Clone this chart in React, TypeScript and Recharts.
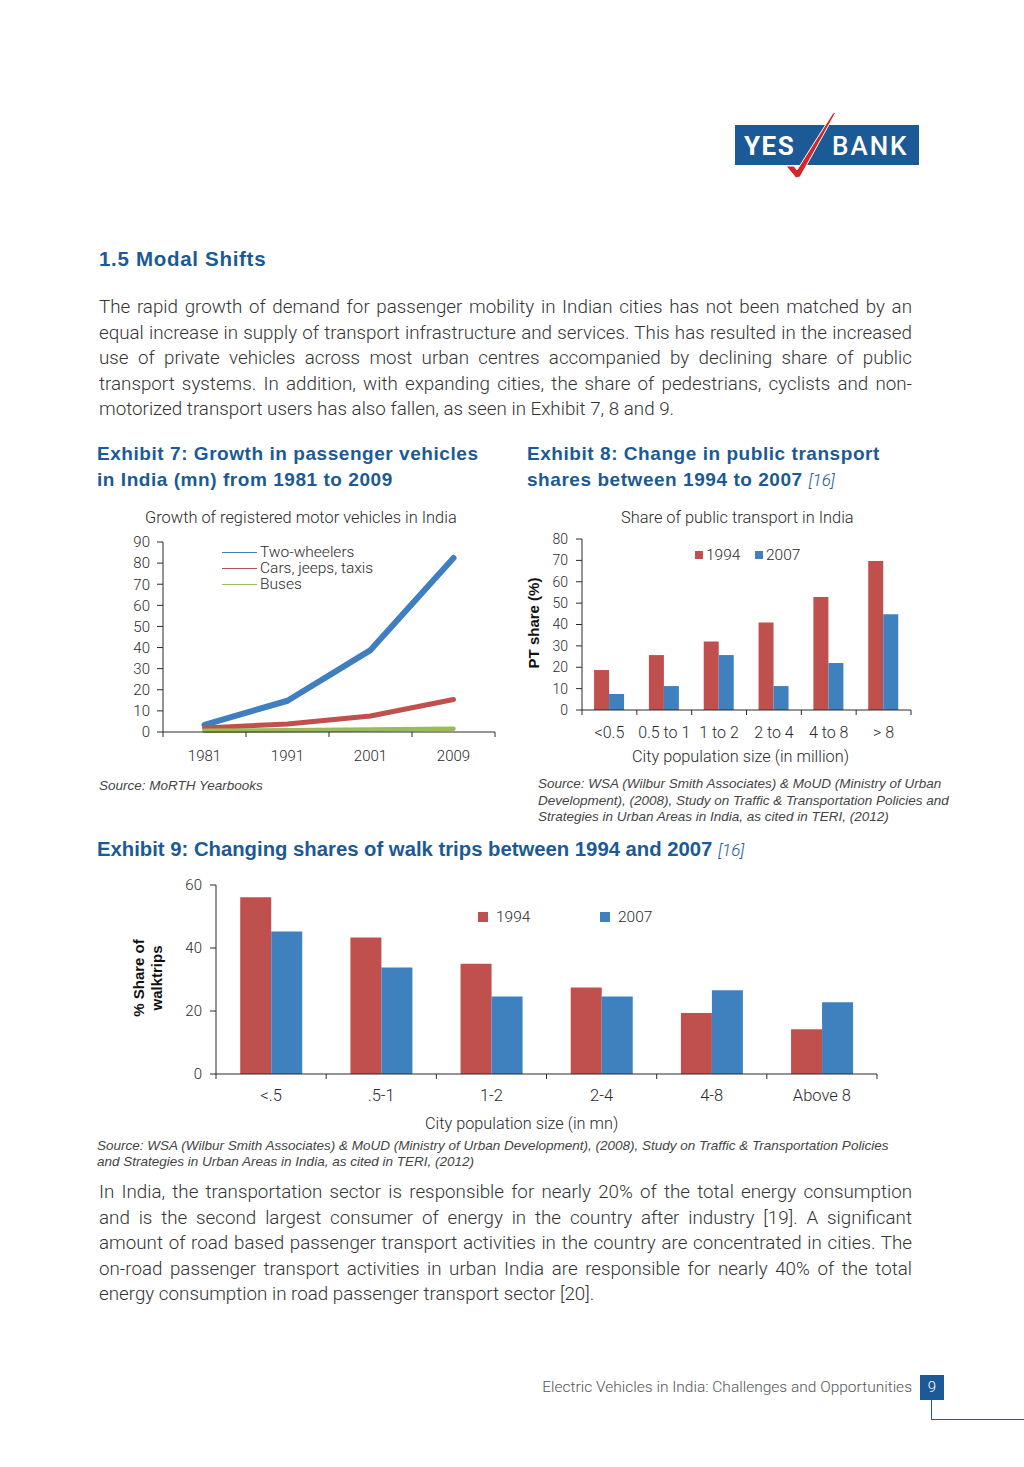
import React from "react";
import { LineChart, Line, BarChart, Bar, XAxis, YAxis, Legend } from "recharts";

// Exhibit 7: registered vehicles (mn)
const years = ["1981", "1991", "2001", "2009"];
const twoWheelers = [3.4, 14.8, 38.8, 82.4];
const carsJeepsTaxis = [1.9, 3.8, 7.6, 15.4];
const buses = [0.6, 0.8, 1.2, 1.5];
const vehicleTicks = [0, 10, 20, 30, 40, 50, 60, 70, 80, 90];
const vehicleSeries = ["Two-wheelers", "Cars, jeeps, taxis", "Buses"];

// Exhibit 8: public transport share (%)
const ptCities = ["<0.5", "0.5 to 1", "1 to 2", "2 to 4", "4 to 8", "> 8"];
const pt1994 = [18.7, 25.7, 32.0, 40.9, 52.9, 69.7];
const pt2007 = [7.5, 11.2, 25.7, 11.2, 22.0, 44.8];
const ptTicks = [0, 10, 20, 30, 40, 50, 60, 70, 80];

// Exhibit 9: walk trip share (%)
const walkCities = ["<.5", ".5-1", "1-2", "2-4", "4-8", "Above 8"];
const walk1994 = [56.1, 43.3, 35.0, 27.5, 19.4, 14.2];
const walk2007 = [45.2, 33.8, 24.6, 24.6, 26.6, 22.8];
const walkTicks = [0, 20, 40, 60];

const para1 = [
  "The rapid growth of demand for passenger mobility in Indian cities has not been matched by an",
  "equal increase in supply of transport infrastructure and services. This has resulted in the increased",
  "use of private vehicles across most urban centres accompanied by declining share of public",
  "transport systems. In addition, with expanding cities, the share of pedestrians, cyclists and non-",
  "motorized transport users has also fallen, as seen in Exhibit 7, 8 and 9.",
];
const para2 = [
  "In India, the transportation sector is responsible for nearly 20% of the total energy consumption",
  "and is the second largest consumer of energy in the country after industry [19]. A significant",
  "amount of road based passenger transport activities in the country are concentrated in cities. The",
  "on-road passenger transport activities in urban India are responsible for nearly 40% of the total",
  "energy consumption in road passenger transport sector [20].",
];

const vehicleData = years.map((year, i) => ({
  year,
  twoWheelers: twoWheelers[i],
  cars: carsJeepsTaxis[i],
  buses: buses[i],
}));
const ptData = ptCities.map((city, i) => ({ city, y1994: pt1994[i], y2007: pt2007[i] }));
const walkData = walkCities.map((city, i) => ({ city, y1994: walk1994[i], y2007: walk2007[i] }));

const NAVY = "#1b5a96";
const RED = "#c0504d";
const BAR_BLUE = "#3f80bf";
const INK = "#2a2a2a";
const SANS = "Roboto, 'Liberation Sans', sans-serif";
const ARIAL = "'Liberation Sans', Arial, sans-serif";
const NARROW = "'Liberation Sans Narrow', 'Liberation Sans', sans-serif";

function Txt({
  x,
  y,
  size,
  children,
  style,
}: {
  x: number;
  y: number;
  size: number;
  children: React.ReactNode;
  style?: React.CSSProperties;
}) {
  const lh = Math.round(size * 1.3);
  return (
    <div
      style={{
        position: "absolute",
        left: x,
        top: y - lh / 2,
        fontSize: size,
        lineHeight: `${lh}px`,
        whiteSpace: "nowrap",
        ...style,
      }}
    >
      {children}
    </div>
  );
}

function Paragraph({ lines, top }: { lines: string[]; top: number }) {
  return (
    <>
      {lines.map((line, i) => (
        <div
          key={i}
          style={{
            position: "absolute",
            left: 99,
            width: 813,
            top: top + i * 25.5 - 12,
            fontFamily: SANS,
            fontWeight: 300,
            fontSize: 18.8,
            lineHeight: "24px",
            color: "#333",
            whiteSpace: "nowrap",
            textAlign: "justify",
            textAlignLast: i === lines.length - 1 ? "left" : "justify",
          }}
        >
          {line}
        </div>
      ))}
    </>
  );
}

// category label centred in its band, tick marks on the band edges
function BandTick(props: any) {
  const { x, y, payload, index, band, count, labelDy, fontSize } = props;
  const half = band / 2;
  return (
    <g>
      <line x1={x - half} x2={x - half} y1={y} y2={y + 5} stroke={INK} />
      {index === count - 1 ? (
        <line x1={x + half} x2={x + half} y1={y} y2={y + 5} stroke={INK} />
      ) : null}
      <text
        x={x}
        y={y + labelDy}
        textAnchor="middle"
        dominantBaseline="central"
        fontFamily={SANS}
        fontWeight={300}
        fontSize={fontSize}
        fill={INK}
      >
        {payload.value}
      </text>
    </g>
  );
}

function LineKey({ payload }: any) {
  const items = [...(payload || [])].sort(
    (a: any, b: any) => vehicleSeries.indexOf(a.value) - vehicleSeries.indexOf(b.value)
  );
  return (
    <div style={{ fontFamily: SANS, fontWeight: 300, fontSize: 15.5, lineHeight: "16px", color: INK }}>
      {items.map((e: any) => (
        <div key={e.value} style={{ display: "flex", alignItems: "center", height: 16 }}>
          <span style={{ width: 35, borderTop: `1.2px solid ${e.color}`, marginRight: 3 }} />
          {e.value}
        </div>
      ))}
    </div>
  );
}

function BarKey({ payload, box, textGap, itemWidth }: any) {
  return (
    <div style={{ display: "flex", fontFamily: SANS, fontWeight: 300, fontSize: 15.5, color: INK }}>
      {(payload || []).map((e: any) => (
        <div key={e.value} style={{ display: "flex", alignItems: "center", width: itemWidth, height: 18 }}>
          <span style={{ width: box, height: box, background: e.color, marginRight: textGap }} />
          {e.value}
        </div>
      ))}
    </div>
  );
}

const yTick = { fontFamily: SANS, fontWeight: 300, fontSize: 15, fill: INK };

function Logo() {
  return (
    <svg width={1024} height={200} style={{ position: "absolute", left: 0, top: 0 }}>
      <rect x={735} y={125} width={184} height={40} fill={NAVY} />
      <text x={744} y={155} fill="#fff" fontFamily={SANS} fontWeight={700} fontSize={26} letterSpacing={1.5}>
        YES
      </text>
      <text x={832} y={155} fill="#fff" fontFamily={SANS} fontWeight={500} fontSize={26} letterSpacing={2}>
        BANK
      </text>
      <polygon
        points="836,112 800,177 796,178 786,166 794,166 797,170 833,113"
        fill="#d3262c"
        stroke="#fff"
        strokeWidth={1}
      />
    </svg>
  );
}

const headStyle: React.CSSProperties = {
  fontFamily: ARIAL,
  fontWeight: 700,
  color: NAVY,
  letterSpacing: 0.55,
};
const sourceStyle: React.CSSProperties = {
  fontFamily: NARROW,
  fontStyle: "italic",
  color: "#444",
};

export default function App() {
  return (
    <div
      style={{
        position: "absolute",
        left: 0,
        top: 0,
        width: 1024,
        height: 1467,
        background: "#fff",
        overflow: "hidden",
        fontFamily: SANS,
      }}
    >
      <Logo />

      <Txt x={99} y={258} size={20.5} style={{ ...headStyle, letterSpacing: 0.7 }}>
        1.5 Modal Shifts
      </Txt>
      <Paragraph lines={para1} top={307} />

      <Txt x={97} y={453} size={19} style={headStyle}>
        Exhibit 7: Growth in passenger vehicles
      </Txt>
      <Txt x={97} y={479} size={19} style={headStyle}>
        in India (mn) from 1981 to 2009
      </Txt>
      <Txt x={527} y={453} size={19} style={headStyle}>
        Exhibit 8: Change in public transport
      </Txt>
      <Txt x={527} y={479} size={19} style={headStyle}>
        shares between 1994 to 2007{" "}
        <span style={{ fontFamily: SANS, fontStyle: "italic", fontWeight: 300, fontSize: 17, letterSpacing: 0 }}>
          [16]
        </span>
      </Txt>

      {/* Exhibit 7 */}
      <Txt x={145} y={517} size={16.4} style={{ fontWeight: 300, color: INK }}>
        Growth of registered motor vehicles in India
      </Txt>
      <div style={{ position: "absolute", left: 100, top: 530 }}>
        <LineChart width={420} height={250} data={vehicleData} margin={{ top: 12, right: 25, bottom: 0, left: 0 }}>
          <XAxis
            dataKey="year"
            padding={{ left: 41.5, right: 41.5 }}
            height={48}
            interval={0}
            stroke={INK}
            tickLine={false}
            tickSize={0}
            tickMargin={0}
            tick={(p: any) => <BandTick {...p} band={83} count={years.length} labelDy={24} fontSize={15} />}
          />
          <YAxis
            width={63}
            domain={[0, 90]}
            ticks={vehicleTicks}
            interval={0}
            stroke={INK}
            tickSize={6}
            tickMargin={7}
            tick={yTick}
          />
          <Legend
            verticalAlign="middle"
            align="center"
            layout="vertical"
            wrapperStyle={{ left: 122, top: 14, width: 200, height: 50 }}
            content={(p: any) => <LineKey {...p} />}
          />
          <Line
            dataKey="twoWheelers"
            name={vehicleSeries[0]}
            stroke="#3f7fbf"
            strokeWidth={6}
            strokeLinecap="round"
            strokeLinejoin="round"
            dot={false}
            isAnimationActive={false}
          />
          <Line
            dataKey="cars"
            name={vehicleSeries[1]}
            stroke={RED}
            strokeWidth={5}
            strokeLinecap="round"
            strokeLinejoin="round"
            dot={false}
            isAnimationActive={false}
          />
          <Line
            dataKey="buses"
            name={vehicleSeries[2]}
            stroke="#9bbb59"
            strokeWidth={4.5}
            strokeLinecap="round"
            strokeLinejoin="round"
            dot={false}
            isAnimationActive={false}
          />
        </LineChart>
      </div>
      <Txt x={99} y={786} size={13.5} style={sourceStyle}>
        Source: MoRTH Yearbooks
      </Txt>

      {/* Exhibit 8 */}
      <Txt x={621} y={517} size={16.4} style={{ fontWeight: 300, color: INK }}>
        Share of public transport in India
      </Txt>
      <div
        style={{
          position: "absolute",
          left: 534 - 60,
          top: 623 - 10,
          width: 120,
          height: 20,
          lineHeight: "20px",
          textAlign: "center",
          transform: "rotate(-90deg)",
          fontFamily: ARIAL,
          fontWeight: 700,
          fontSize: 15,
          color: "#111",
        }}
      >
        PT share (%)
      </div>
      <div style={{ position: "absolute", left: 520, top: 525 }}>
        <BarChart
          width={410}
          height={245}
          data={ptData}
          margin={{ top: 14, right: 19, bottom: 0, left: 0 }}
          barCategoryGap="22%"
          barGap={0}
        >
          <XAxis
            dataKey="city"
            height={60}
            interval={0}
            stroke={INK}
            tickLine={false}
            tickSize={0}
            tickMargin={0}
            tick={(p: any) => <BandTick {...p} band={329 / 6} count={ptCities.length} labelDy={22} fontSize={16} />}
          />
          <YAxis
            width={62}
            domain={[0, 80]}
            ticks={ptTicks}
            interval={0}
            stroke={INK}
            tickSize={6}
            tickMargin={8}
            tick={{ ...yTick, fontSize: 14 }}
          />
          <Legend
            verticalAlign="middle"
            align="center"
            layout="horizontal"
            wrapperStyle={{ left: 175, top: 21, width: 160, height: 18 }}
            content={(p: any) => <BarKey {...p} box={8} textGap={3} itemWidth={60} />}
          />
          <Bar dataKey="y1994" name="1994" fill={RED} isAnimationActive={false} />
          <Bar dataKey="y2007" name="2007" fill={BAR_BLUE} isAnimationActive={false} />
        </BarChart>
      </div>
      <Txt x={632} y={756} size={16.3} style={{ fontWeight: 300, color: INK }}>
        City population size (in million)
      </Txt>
      <Txt x={538} y={784} size={13.5} style={sourceStyle}>
        Source: WSA (Wilbur Smith Associates) &amp; MoUD (Ministry of Urban
      </Txt>
      <Txt x={538} y={801} size={13.5} style={sourceStyle}>
        Development), (2008), Study on Traffic &amp; Transportation Policies and
      </Txt>
      <Txt x={538} y={817} size={13.5} style={sourceStyle}>
        Strategies in Urban Areas in India, as cited in TERI, (2012)
      </Txt>

      {/* Exhibit 9 */}
      <Txt x={97} y={849} size={20.3} style={{ fontFamily: NARROW, fontWeight: 700, color: NAVY }}>
        Exhibit 9: Changing shares of walk trips between 1994 and 2007{" "}
        <span style={{ fontFamily: SANS, fontStyle: "italic", fontWeight: 300, fontSize: 17 }}>[16]</span>
      </Txt>
      <div
        style={{
          position: "absolute",
          left: 150 - 60,
          top: 978 - 20,
          width: 120,
          height: 40,
          lineHeight: "18px",
          textAlign: "center",
          transform: "rotate(-90deg)",
          fontFamily: ARIAL,
          fontWeight: 700,
          fontSize: 15,
          color: "#111",
        }}
      >
        % Share of
        <br />
        walktrips
      </div>
      <div style={{ position: "absolute", left: 130, top: 875 }}>
        <BarChart
          width={770}
          height={235}
          data={walkData}
          margin={{ top: 10, right: 23, bottom: 0, left: 0 }}
          barCategoryGap="22%"
          barGap={0}
        >
          <XAxis
            dataKey="city"
            height={36}
            interval={0}
            stroke={INK}
            tickLine={false}
            tickSize={0}
            tickMargin={0}
            tick={(p: any) => <BandTick {...p} band={661 / 6} count={walkCities.length} labelDy={21} fontSize={16.5} />}
          />
          <YAxis
            width={86}
            domain={[0, 60]}
            ticks={walkTicks}
            interval={0}
            stroke={INK}
            tickSize={6}
            tickMargin={8}
            tick={yTick}
          />
          <Legend
            verticalAlign="middle"
            align="center"
            layout="horizontal"
            wrapperStyle={{ left: 348, top: 33, width: 260, height: 18 }}
            content={(p: any) => <BarKey {...p} box={10} textGap={8} itemWidth={122} />}
          />
          <Bar dataKey="y1994" name="1994" fill={RED} isAnimationActive={false} />
          <Bar dataKey="y2007" name="2007" fill={BAR_BLUE} isAnimationActive={false} />
        </BarChart>
      </div>
      <Txt x={425} y={1123} size={16.3} style={{ fontWeight: 300, color: INK }}>
        City population size (in mn)
      </Txt>
      <Txt x={97} y={1146} size={13.5} style={sourceStyle}>
        Source: WSA (Wilbur Smith Associates) &amp; MoUD (Ministry of Urban Development), (2008), Study on Traffic
        &amp; Transportation Policies
      </Txt>
      <Txt x={97} y={1162} size={13.5} style={sourceStyle}>
        and Strategies in Urban Areas in India, as cited in TERI, (2012)
      </Txt>

      <Paragraph lines={para2} top={1192} />

      {/* footer */}
      <div
        style={{
          position: "absolute",
          right: 1024 - 912,
          top: 1377,
          fontSize: 15.5,
          lineHeight: "20px",
          fontWeight: 300,
          color: "#555",
          whiteSpace: "nowrap",
        }}
      >
        Electric Vehicles in India: Challenges and Opportunities
      </div>
      <div
        style={{
          position: "absolute",
          left: 920,
          top: 1375,
          width: 24,
          height: 25,
          background: NAVY,
          color: "#fff",
          fontSize: 15,
          lineHeight: "25px",
          textAlign: "center",
          fontWeight: 300,
        }}
      >
        9
      </div>
      <div
        style={{
          position: "absolute",
          left: 931,
          top: 1400,
          width: 93,
          height: 19,
          borderLeft: `1.5px solid ${NAVY}`,
          borderBottom: `1.5px solid ${NAVY}`,
        }}
      />
    </div>
  );
}
